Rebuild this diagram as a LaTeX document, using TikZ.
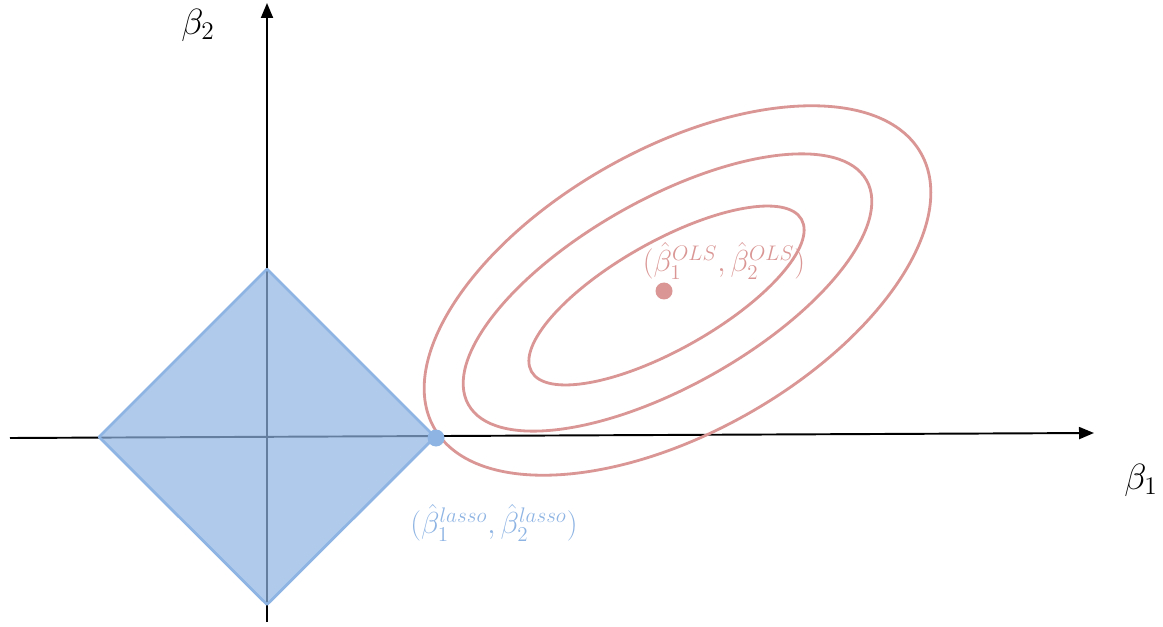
\documentclass[tikz,border=0pt]{standalone}
\usetikzlibrary{arrows.meta}
\definecolor{lassoblue}{HTML}{8EB4E3}
\definecolor{olsred}{HTML}{D99694}
\begin{document}
\begin{tikzpicture}[font=\fontsize{17}{20}\selectfont,
  axis/.style={line width=1.1pt, -{Triangle[length=0.3cm, width=0.24cm]}},
  axislabel/.style={font=\fontsize{21}{24}\selectfont},
  contour/.style={draw=olsred, line width=1.6pt},
  estdot/.style={circle, inner sep=0pt, minimum size=0.34cm}]
  \useasboundingbox (0,0) rectangle (23.26,12.52);
  % axes
  \coordinate (xstart) at (0.20,3.76); \coordinate (xend) at (21.88,3.86);
  \coordinate (ystart) at (5.34,0.08); \coordinate (yend) at (5.34,12.46);
  \draw[axis] (xstart) -- (xend);
  \draw[axis] (ystart) -- (yend);
  \node[axislabel] (b1) at (22.82,2.92) {$\beta_1$};
  \node[axislabel] (b2) at (3.96,12.02) {$\beta_2$};

  % lasso region |b1|+|b2| <= t
  \draw[lassoblue, line width=1.6pt, fill=lassoblue, fill opacity=0.7, line join=round]
    (1.98,3.78) -- (5.34,7.14) -- (8.70,3.78) -- (5.34,0.43) -- cycle;

  % RSS contours
  \foreach \cx/\cy/\a/\b in {13.55/6.71/5.59/2.84, 13.35/6.67/4.57/1.87, 13.33/6.61/3.10/1.08}
    \draw[contour, rotate around={29.4:(\cx,\cy)}] (\cx,\cy) ellipse ({\a} and {\b});

  \node[estdot, fill=olsred] (ols) at (13.28,6.70) {};
  \node[text=olsred] (olslabel) at (14.48,7.30) {$(\hat\beta_1^{OLS},\hat\beta_2^{OLS})$};
  \node[estdot, fill=lassoblue] (lasso) at (8.72,3.76) {};
  \node[text=lassoblue, font=\fontsize{18.5}{22}\selectfont] (lassolabel) at (9.88,2.06) {$(\hat\beta_1^{lasso},\hat\beta_2^{lasso})$};
\end{tikzpicture}
\end{document}
